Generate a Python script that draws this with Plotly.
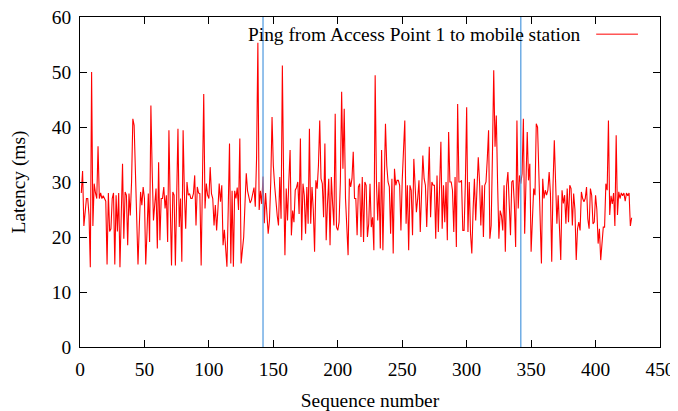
import plotly.graph_objects as go

latency = [
    28, 32, 22, 25, 27, 27, 24, 14.5, 50, 22, 29.7, 28, 27, 36.5, 27, 28, 27, 27.5, 27, 26.5,
    15, 28, 21, 21.5, 27, 28, 15, 27.6, 21, 28, 14.5, 27, 33.3, 19.7, 28.2, 27.6, 18.5,
    27.9, 23.9, 30, 41.5, 40.3, 33, 24, 15, 22, 28.2, 25.8, 29.1, 27, 15, 21, 27.9, 19.1, 43.9, 32,
    23, 26, 28.8, 17.9, 33.6, 19.4, 27, 27, 29.1, 25.2, 27.6, 19.1, 39.4, 26, 14.8, 28.2, 27.6,
    14.8, 27, 39.7, 21.8, 27, 15.5, 39.4, 28, 21.5, 30, 27.6, 27.9, 27, 27, 27.9, 31.2, 22.1, 29.1,
    28, 27.9, 14.8, 30, 46, 25.2, 29.7, 27.6, 27, 32.7, 27.9, 27, 22.1, 25.8, 21.2, 25, 29.7, 26.4,
    29.4, 18.5,
    21.3, 18, 14.6, 25, 37, 15.2, 28.4, 14.6, 28.4, 27, 29, 24.9, 37.9, 15.2, 18, 20, 26, 31.6,
    28.4, 27, 26.2, 26.7, 28, 29, 25.5, 34.4, 55.3, 24.9, 28.4, 26, 31, 22.5, 28, 23.1, 20.6, 23, 30,
    41.8, 33, 29.4, 26, 23.9, 22.1, 30.9, 23.3, 51.2, 30, 16.7, 28.8, 23, 30, 35.8, 20.3, 24.8, 22.7,
    28.5, 29, 30, 24.2, 37.9, 19.4, 29.7, 27.6, 20.6, 29.1, 22.4, 39.7, 22.4, 29.1, 25, 17.3, 30.3,
    28.8, 33,
    41.2, 30.6, 29.7, 23.6, 37, 19.4, 26, 30.6, 18.5, 30.9, 26, 22.1, 42.4, 21.8, 21.2, 22.7, 30,
    46.4, 32.4, 43.3, 27, 22, 16.7, 30.6, 29.1, 30.6, 35.5, 27, 27, 20.3, 29.1, 29.7, 20, 30.9, 19.1,
    30, 29.4,
    20, 22.4, 29.7, 21.8, 23.6, 17.6, 49.4, 30, 23, 30, 17.9, 35.8, 17.6, 30, 40.6, 33, 30, 29.1,
    20.6, 30.6, 17, 32.4, 29.4, 30.3, 30.3, 29.4, 21.2, 30.3, 35, 41.2, 22.4, 29.4, 17.6, 29.4, 28.5,
    20.3, 34.2, 30,
    24.5, 27, 30.3, 20.9, 28, 34.8, 30.6, 29.4, 21.8, 30, 36.4, 23.6, 30, 29.4, 29.4, 19.7, 31.2,
    20.9, 30, 37.3, 21.5, 29.4, 22.7, 30, 19.4, 39.1, 30, 30, 28.5, 20.9, 30.9, 18.2, 44.2, 30, 30,
    30.3, 21.2,
    21.2, 30, 43.6, 20.9, 30, 20.6, 17, 25, 30.6, 23, 28, 34.5, 30, 22.1, 29.4, 20, 29.4, 30, 34.2,
    39.4, 19.7, 22.1, 35, 50.3, 36.4, 42.1, 29.7, 19.7, 24.8, 23.9, 21.2, 29.4, 17.3, 29.4, 31.8,
    27, 20.3,
    30, 30.3, 26, 18.2, 41.2, 25.2, 31.2, 29.7, 31.5, 41.5, 20.6, 31.2, 39.1, 30.3, 33.3, 17.3, 25,
    28.8, 27.6, 40.6, 40, 33, 25.8, 15.2, 30.6, 27, 28.5, 27.6, 28.5, 31.8, 27.9, 15.5, 29.4, 37.6,
    30, 22.4, 27.6,
    22.4, 15.8, 28.5, 26.1, 27.6, 22.4, 28.8, 22.7, 29.4, 28.8, 22.1, 27.9, 25, 15.8, 21.5, 22.7,
    21.2, 28.2, 27, 26.4, 27, 29.1, 23.3, 21.5, 28.8, 27.6, 22.4, 22.7, 27.6, 25, 18.8, 21.5, 15.8,
    20, 21.8, 21.8, 29.7, 28.5, 41.2,
    24, 27.5, 26, 28, 22, 38.5, 24, 28.2, 27, 28, 27.5, 28, 26.5, 28, 27.5, 28, 22, 23.5,
]
sequence = list(range(1, len(latency) + 1))
marker_lines = [142, 342]
x_ticks = [0, 50, 100, 150, 200, 250, 300, 350, 400, 450]
y_ticks = [0, 10, 20, 30, 40, 50, 60]
legend_label = "Ping from Access Point 1 to mobile station"

FONT = "Liberation Serif, Times New Roman, serif"
FS = 19.4

fig = go.Figure()
fig.add_trace(go.Scatter(x=sequence, y=latency, mode="lines",
                         line=dict(color="#ff0000", width=1.1), showlegend=False))

for m in marker_lines:
    fig.add_shape(type="line", xref="x", yref="paper", x0=m, x1=m, y0=0, y1=1,
                  line=dict(color="rgb(90,160,225)", width=1.3))

# gnuplot-style key: text then line sample on the right
fig.add_annotation(xref="paper", yref="paper", x=0.867, y=0.948, xanchor="right",
                   yanchor="middle", text=legend_label, showarrow=False,
                   font=dict(family=FONT, size=FS, color="black"))
fig.add_shape(type="line", xref="paper", yref="paper", x0=0.890, x1=0.962,
              y0=0.948, y1=0.948, line=dict(color="#ff0000", width=1))

axis_common = dict(showline=True, linecolor="black", linewidth=1, mirror="ticks",
                   ticks="inside", ticklen=7, tickcolor="black", showgrid=False,
                   zeroline=False, automargin=False, ticklabeloverflow="allow",
                   tickfont=dict(family=FONT, size=FS, color="black"))

fig.update_xaxes(range=[0, 450], tickvals=x_ticks, ticktext=[str(v) for v in x_ticks],
                 ticklabelstandoff=5,
                 title=dict(text="Sequence number", font=dict(family=FONT, size=FS, color="black"),
                            standoff=20),
                 **axis_common)
fig.update_yaxes(range=[0, 60], tickvals=y_ticks, ticktext=[str(v) for v in y_ticks],
                 ticklabelstandoff=4,
                 title=dict(text="Latency (ms)", font=dict(family=FONT, size=FS, color="black"),
                            standoff=26),
                 **axis_common)

# the page adds an 8px body margin, so the figure is sized to fit inside the window
fig.update_layout(width=670, height=403, plot_bgcolor="white", paper_bgcolor="white",
                  margin=dict(l=72, r=18, t=9, b=64), font=dict(family=FONT))

fig.write_html("out.html")
